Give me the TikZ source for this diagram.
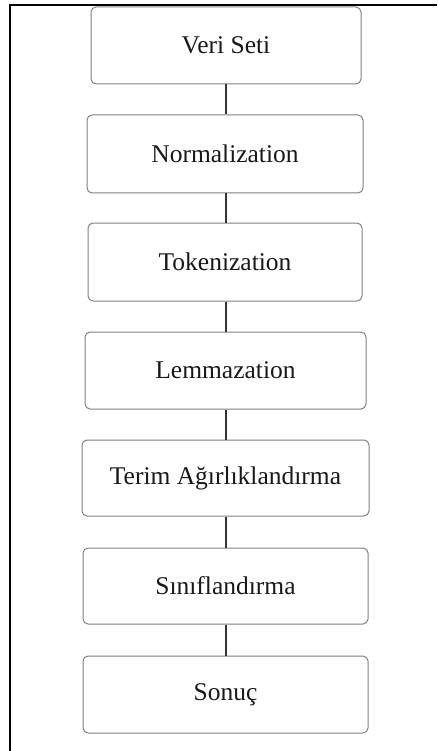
\documentclass[tikz,border=0pt]{standalone}
\usepackage{fontspec}
\setmainfont{Liberation Serif}
\begin{document}
\begin{tikzpicture}[x=1pt,y=-1pt,
  stepbox/.style={draw=black!50, line width=1pt, rounded corners=5pt, fill=white, inner sep=0pt,
    font=\fontsize{25.5}{30}\selectfont, text=black!90},
  link/.style={draw=black!80, line width=2.4pt},
  frame/.style={draw=black, line width=2.4pt}]
\useasboundingbox (0,0) rectangle (437,751);
\coordinate (tl) at (10,4.8);
\coordinate (tr) at (437,4.8);
\coordinate (bl) at (10,751);
\coordinate (spine) at (226,0);
\draw[frame] (tr) -- (tl) -- (bl);
\node[stepbox, minimum width=270pt, minimum height=77pt] (n1) at (226,45.5) {Veri Seti};
\node[stepbox, minimum width=276pt, minimum height=78pt] (n2) at (225,154) {Normalization};
\node[stepbox, minimum width=274pt, minimum height=78pt] (n3) at (225,262) {Tokenization};
\node[stepbox, minimum width=281pt, minimum height=77pt] (n4) at (225.5,370.5) {Lemmazation};
\node[stepbox, minimum width=287pt, minimum height=76pt] (n5) at (225.5,478) {Terim Ağırlıklandırma};
\node[stepbox, minimum width=285pt, minimum height=76pt] (n6) at (225.5,586) {Sınıflandırma};
\node[stepbox, minimum width=285pt, minimum height=77pt] (n7) at (225.5,694.5) {Sonuç};
\foreach \a/\b in {n1/n2,n2/n3,n3/n4,n4/n5,n5/n6,n6/n7}
  \draw[link] (\a.south -| spine) -- (\b.north -| spine);
\end{tikzpicture}
\end{document}
